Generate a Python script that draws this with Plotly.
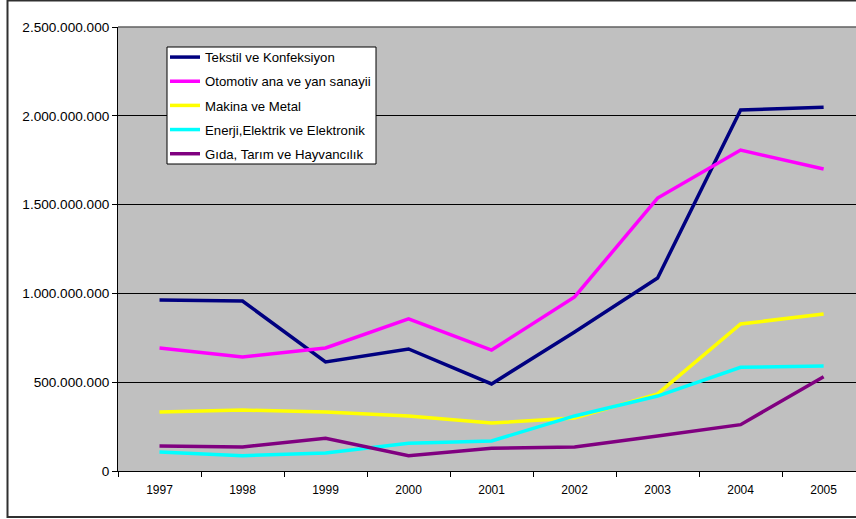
import plotly.graph_objects as go

years = ["1997", "1998", "1999", "2000", "2001", "2002", "2003", "2004", "2005"]

tekstil = [963e6, 957e6, 614e6, 687e6, 490e6, 783e6, 1087e6, 2033e6, 2048e6]
otomotiv = [693e6, 642e6, 693e6, 856e6, 681e6, 980e6, 1537e6, 1807e6, 1700e6]
makina = [332e6, 343e6, 332e6, 310e6, 270e6, 298e6, 434e6, 828e6, 884e6]
enerji = [107e6, 86e6, 101e6, 156e6, 169e6, 310e6, 422e6, 584e6, 591e6]
gida = [141e6, 135e6, 184e6, 86e6, 128e6, 135e6, 197e6, 261e6, 531e6]

series = [
    ("Tekstil ve Konfeksiyon", tekstil, "#000080"),
    ("Otomotiv ana ve yan sanayii", otomotiv, "#FF00FF"),
    ("Makina ve Metal", makina, "#FFFF00"),
    ("Enerji,Elektrik ve Elektronik", enerji, "#00FFFF"),
    ("Gıda, Tarım ve Hayvancılık", gida, "#800080"),
]

fig = go.Figure()
for i, (name, vals, col) in enumerate(series):
    fig.add_trace(go.Scatter(x=years, y=vals, name=name, mode="lines",
                             legendgroup=f"g{i}",
                             line=dict(color=col, width=3.5)))

W, H = 856, 519
L, R, T, B = 118, 0, 27, 48
pw, ph = W - L - R, H - T - B


def px(x):
    return (x - L) / pw


def py(y):
    return (H - B - y) / ph


fig.update_layout(
    width=W, height=H,
    margin=dict(l=L, r=R, t=T, b=B, pad=0),
    paper_bgcolor="white",
    plot_bgcolor="#C0C0C0",
    separators=",.",
    font=dict(family="Arial, Liberation Sans, sans-serif", size=13, color="black"),
    showlegend=True,
    legend=dict(
        x=px(165), y=py(42), xanchor="left", yanchor="top",
        bgcolor="rgba(0,0,0,0)", borderwidth=0,
        font=dict(size=13.2, color="black"),
        tracegroupgap=4,
        itemwidth=30,
    ),
    xaxis=dict(
        type="category",
        range=[-0.5, 8.39],
        tickson="boundaries",
        ticks="outside", ticklen=5, tickcolor="black", tickwidth=1,
        showline=True, linecolor="black", linewidth=1,
        showgrid=False, zeroline=False,
        tickfont=dict(size=12),
        ticklabelstandoff=8,
    ),
    yaxis=dict(
        range=[0, 2.5e9], dtick=5e8, tick0=0,
        tickformat=",.0f",
        ticks="outside", ticklen=5, tickcolor="black", tickwidth=1,
        showline=True, linecolor="black", linewidth=1,
        showgrid=True, gridcolor="black", gridwidth=1,
        zeroline=False,
        tickfont=dict(size=13.6),
        ticklabelstandoff=0,
    ),
)

# legend box
fig.add_shape(type="rect", xref="paper", yref="paper",
              x0=px(167), x1=px(376), y0=py(164), y1=py(47),
              fillcolor="white", line=dict(color="black", width=1), layer="above")
# plot-area top border (grey)
fig.add_shape(type="line", xref="paper", yref="paper", x0=0, x1=1, y0=1, y1=1,
              line=dict(color="#606060", width=1.5))
# outer chart border
fig.add_shape(type="rect", xref="paper", yref="paper",
              x0=px(7.5), x1=px(W + 10), y0=py(517), y1=py(0.5),
              line=dict(color="#303030", width=2), layer="below")

fig.write_html("out.html", config={"displayModeBar": False},
               post_script="document.body.style.margin='0';")
